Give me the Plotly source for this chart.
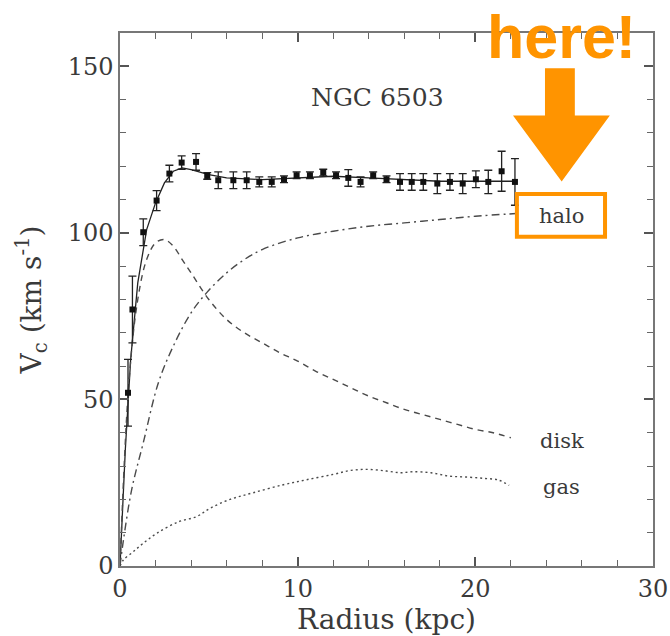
import plotly.graph_objects as go

# Observed rotation curve
r_obs = [0.45, 0.7, 1.31, 2.06, 2.78, 3.47, 4.28, 4.91, 5.53, 6.38, 7.13, 7.84, 8.54, 9.23,
         9.94, 10.69, 11.44, 12.16, 12.85, 13.54, 14.25, 15.0, 15.76, 16.42, 17.07, 17.86,
         18.57, 19.29, 20.03, 20.73, 21.48, 22.23]
v_obs = [52, 77, 100.2, 109.7, 117.8, 121.1, 121.3, 117.1, 115.8, 115.8, 115.8, 115.3, 115.3, 116.1,
         117.3, 117.3, 118.1, 117.3, 116.5, 115.3, 117.3, 116.1, 115.3, 115.3, 115.3, 114.8,
         115.3, 114.8, 116.1, 115.3, 118.5, 115.3]
v_err = [10, 10, 4, 3, 2.5, 2, 2.5, 1, 2.5, 2.5, 2.5, 1.5, 1.5, 1, 1, 1, 1, 1, 2.5, 1.5, 1, 1,
         2.5, 2.5, 2.5, 3, 2.5, 3, 2.5, 3.5, 6, 7]

# Total model
r_tot = [0, 0.3, 0.6, 1.0, 1.5, 2.0, 2.5, 3.0, 3.5, 4.0, 5, 6, 8, 10, 12, 14, 16, 18, 20, 22.3]
v_tot = [0, 35, 62, 85, 101, 109, 115, 118.5, 119.5, 119, 117.5, 116.5, 116, 116.5, 117, 116.5,
         116, 115.5, 115.5, 115.5]

# Disk component
r_disk = [0, 0.5, 1, 1.5, 2, 2.5, 3, 3.5, 4, 5, 6, 7, 8, 9, 10, 11, 12, 13, 14, 15, 16, 17, 18,
          19, 20, 21, 22]
v_disk = [0, 55, 80, 92, 97, 98, 96, 92, 88, 80, 74, 70, 67, 64, 61.5, 58.5, 56, 53.5, 51, 49,
          47, 45.5, 44, 42.5, 41, 40, 38.5]

# Halo component
r_halo = [0, 0.2, 0.66, 1.31, 2.16, 3, 4, 4.87, 6, 7, 8, 10, 12, 14, 16, 18, 20, 22.3]
v_halo = [0, 8, 23, 37, 55, 66, 76, 82, 88, 92, 95, 98.5, 100.5, 102, 103, 104, 105, 105.8]

# Gas component
r_gas = [0, 0.19, 0.75, 1.3, 2.07, 3.3, 4.3, 5.06, 6.2, 7.5, 9.2, 10.5, 12, 13, 14, 15, 15.8,
         16.5, 17.5, 18.5, 19.5, 20.5, 21.3, 21.9]
v_gas = [0, 1.8, 4.3, 6.8, 9.8, 13.3, 14.8, 17.3, 20, 22, 24.4, 25.9, 27.5, 28.7, 29, 28.5, 28,
         28.3, 28, 27, 26.7, 26.3, 25.8, 24.2]

FONT = "DejaVu Serif"
TXT = "#3a3a3a"
LINE = "#4a4a4a"
ORANGE = "#FF9400"

fig = go.Figure()

fig.add_trace(go.Scatter(x=r_tot, y=v_tot, mode="lines",
                         line=dict(color="#222", width=1.3), hoverinfo="skip"))
fig.add_trace(go.Scatter(x=r_disk, y=v_disk, mode="lines", line_shape="spline",
                         line=dict(color=LINE, width=1.4, dash="6px,5px")))
fig.add_trace(go.Scatter(x=r_halo, y=v_halo, mode="lines", line_shape="spline",
                         line=dict(color=LINE, width=1.4, dash="8px,4px,2px,4px")))
fig.add_trace(go.Scatter(x=r_gas, y=v_gas, mode="lines", line_shape="spline",
                         line=dict(color=LINE, width=1.4, dash="2px,3px")))
fig.add_trace(go.Scatter(x=r_obs, y=v_obs, mode="markers",
                         marker=dict(symbol="square", size=6, color="#111"),
                         error_y=dict(type="data", array=v_err, color="#222",
                                      thickness=1.3, width=4)))

# Labels
fig.add_annotation(x=14.5, y=140.5, text="NGC 6503", showarrow=False,
                   font=dict(family=FONT, size=25, color=TXT))
fig.add_annotation(x=24.85, y=105, text="halo", showarrow=False,
                   font=dict(family=FONT, size=21, color=TXT))
fig.add_annotation(x=24.85, y=37.4, text="disk", showarrow=False,
                   font=dict(family=FONT, size=21, color=TXT))
fig.add_annotation(x=24.85, y=23.8, text="gas", showarrow=False,
                   font=dict(family=FONT, size=21, color=TXT))

# Orange highlight
fig.add_shape(type="rect", x0=22.34, x1=27.3, y0=98.8, y1=111.7,
              line=dict(color=ORANGE, width=4))
fig.add_shape(type="path",
              path="M 23.92 149.4 L 25.6 149.4 L 25.6 135.2 L 27.57 135.2 L 24.86 115.4 "
                   "L 22.12 135.2 L 23.92 135.2 Z",
              fillcolor=ORANGE, line=dict(color=ORANGE, width=0))
fig.add_annotation(x=24.85, xref="x", y=0.993, yref="paper", yanchor="middle",
                   text="<b>here!</b>", showarrow=False,
                   font=dict(family="Liberation Sans", size=61, color=ORANGE))

axis_common = dict(showgrid=False, zeroline=False, showline=True, linecolor="#777",
                   linewidth=1.5, mirror="ticks", ticks="inside", tickcolor="#555",
                   tickwidth=1.5, ticklen=9, automargin=False,
                   tickfont=dict(family=FONT, size=24, color=TXT))

fig.update_xaxes(range=[0, 30], tick0=0, dtick=10,
                 minor=dict(dtick=2, ticks="inside", ticklen=6, tickcolor="#666", tickwidth=1.3),
                 title=dict(text="Radius (kpc)", font=dict(family=FONT, size=28, color=TXT),
                            standoff=4),
                 **axis_common)
fig.update_yaxes(range=[0, 160], tick0=0, dtick=50,
                 minor=dict(dtick=10, ticks="inside", ticklen=6, tickcolor="#666", tickwidth=1.3),
                 title=dict(text="V<sub>c</sub> (km s<sup>-1</sup>)",
                            font=dict(family=FONT, size=28, color=TXT), standoff=18),
                 **axis_common)

fig.update_layout(width=670, height=636, showlegend=False,
                  margin=dict(l=120, r=17, t=33, b=70),
                  plot_bgcolor="white", paper_bgcolor="white")

fig.write_html("out.html")
